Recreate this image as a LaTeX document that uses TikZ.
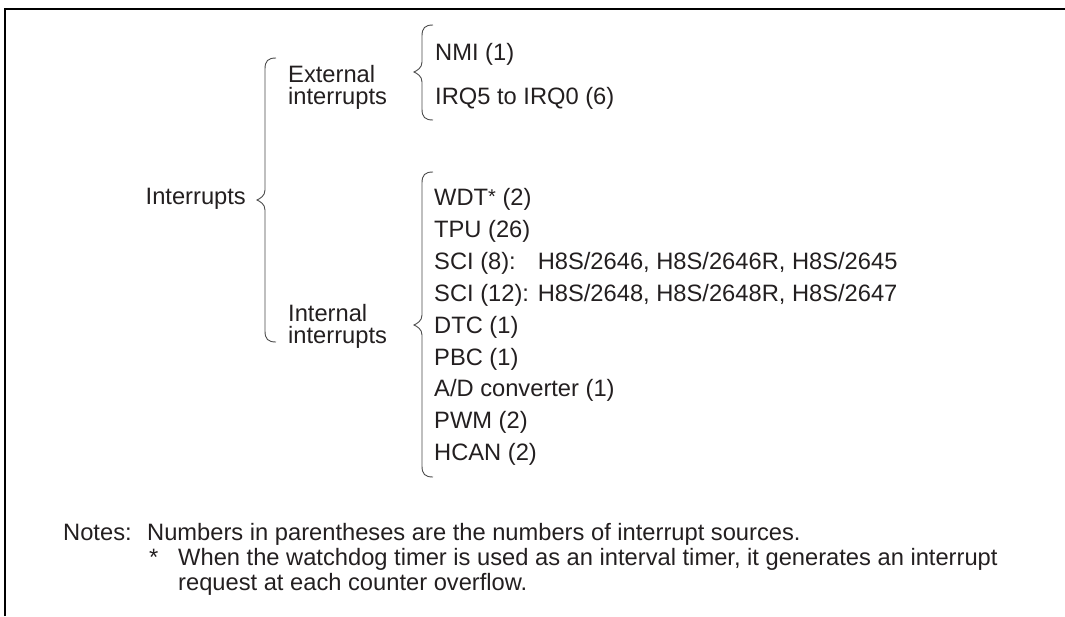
\documentclass[tikz,border=0pt]{standalone}
\usepackage{fontspec}
\usepackage{calc}
\setmainfont{Liberation Sans}
\definecolor{txt}{HTML}{231F20}
\definecolor{brc}{HTML}{4A4A4A}
\newcommand\bracepath[4]{% x, top, bottom, mid
  \draw[bracestyle] ({#1+11},#2) .. controls ({#1+3},#2) and (#1,{#2+3}) .. (#1,{#2+11})
    -- (#1,{#4-10}) .. controls (#1,{#4-4}) and ({#1-5},{#4-1.5}) .. ({#1-8},#4)
    .. controls ({#1-5},{#4+1.5}) and (#1,{#4+4}) .. (#1,{#4+10})
    -- (#1,{#3-11}) .. controls (#1,{#3-3}) and ({#1+3},#3) .. ({#1+11},#3);}
\begin{document}
\begin{tikzpicture}[x=1pt,y=-1pt,
  bracestyle/.style={draw=brc,line width=0.9pt},
  txtnode/.style={inner sep=0pt,text=txt,font=\fontsize{23.7}{25}\selectfont,anchor=base west}]
\useasboundingbox (0,0) rectangle (1065,616);
% frame
\draw[line width=2.3pt] (5,616) -- (5,9) -- (1065,9);
% level 1
\node[txtnode,anchor=base east] (intr) at (246,204.5) {Interrupts};
\bracepath{265}{58}{342}{200}
% level 2
\node[txtnode] (ext1) at (288,82) {External};
\node[txtnode] (ext2) at (288,104.5) {interrupts};
\node[txtnode] (int1) at (288,321) {Internal};
\node[txtnode] (int2) at (288,343.5) {interrupts};
\bracepath{422}{25}{120}{72}
\bracepath{422}{172}{477}{325}
% external sources
\node[txtnode] (nmi) at (435,60) {NMI (1)};
\node[txtnode] (irq) at (435,104) {IRQ5 to IRQ0 (6)};
% internal sources
\node[txtnode] (wdt) at (434,205.5) {WDT\raisebox{2pt}{\fontsize{20}{20}\selectfont*} (2)};
\node[txtnode] (tpu) at (434,237.4) {TPU (26)};
\node[txtnode] (scia) at (434,269.3) {\makebox[\widthof{SCI (12): }][l]{SCI (8):}H8S/2646, H8S/2646R, H8S/2645};
\node[txtnode] (scib) at (434,301.2) {SCI (12): H8S/2648, H8S/2648R, H8S/2647};
\node[txtnode] (dtc) at (434,333.1) {DTC (1)};
\node[txtnode] (pbc) at (434,365.0) {PBC (1)};
\node[txtnode] (adc) at (434,396.9) {A/D converter (1)};
\node[txtnode] (pwm) at (434,428.8) {PWM (2)};
\node[txtnode] (hcan) at (434,460.7) {HCAN (2)};
% notes
\node[txtnode] (n1) at (63,540) {Notes:};
\node[txtnode] (n2) at (147,540) {Numbers in parentheses are the numbers of interrupt sources.};
\node[txtnode] (n3) at (149,565) {*};
\node[txtnode] (n4) at (178,565) {When the watchdog timer is used as an interval timer, it generates an interrupt};
\node[txtnode] (n5) at (178,590) {request at each counter overflow.};
\end{tikzpicture}
\end{document}
